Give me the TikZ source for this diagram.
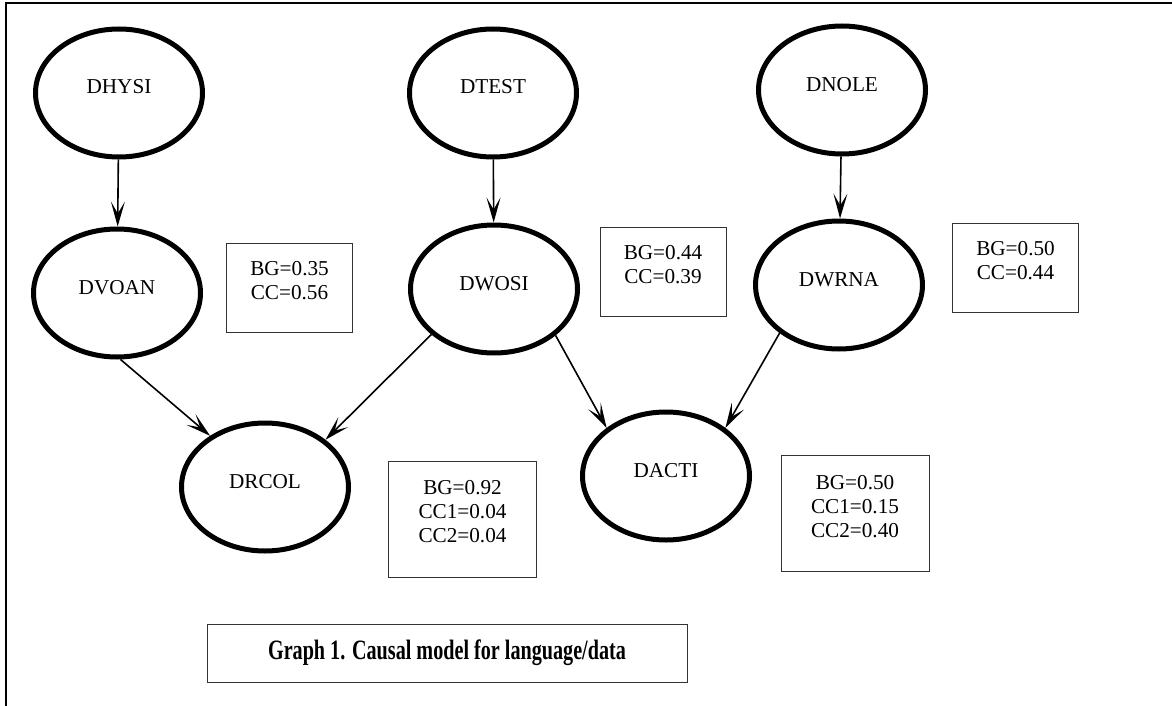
\documentclass[tikz,border=0pt]{standalone}
\usepackage{fontspec}
\setmainfont{Liberation Serif}
\usetikzlibrary{shapes.geometric, arrows.meta}

\begin{document}
\begin{tikzpicture}[>={Stealth[length=12.5pt, width=7pt, inset=6pt]}, x=0.5pt, y=-0.5pt,
    var/.style={ellipse, draw, line width=2.5pt, minimum width=83.5pt, minimum height=64pt,
        inner sep=0pt, font=\fontsize{10.6}{12}\selectfont, text height=7pt, text depth=6pt},
    stat/.style={rectangle, draw=black!80, line width=0.5pt, minimum width=63pt, minimum height=44.5pt},
    bigstat/.style={stat, minimum width=74pt, minimum height=58pt},
    stattext/.style={align=center, yshift=3.5pt, font=\fontsize{10.6}{12}\selectfont},
    edge/.style={->, line width=0.8pt}]
                \useasboundingbox (0,0) rectangle (1172,706);
                % Marco
                \draw[line width=1pt] (1172,3) -- (6,3) -- (6,706);
                % Variables de arriba
                \node[var] (hysi) at (119,93) {DHYSI};
                \node[var] (test) at (493,93) {DTEST};
                \node[var] (nole) at (842,90) {DNOLE};
                % Variables del medio
                \node[var] (voan) at (117,293) {DVOAN};
                \node[var] (wosi) at (494,289) {DWOSI};
                \node[var] (wrna) at (839,285) {DWRNA};
                % Variables de abajo
                \node[var] (rcol) at (265,487) {DRCOL};
                \node[var] (acti) at (666,476) {DACTI};
                % Cuadros
                \node[stat, label={[stattext]center:BG=0.35\\CC=0.56}] (bvoan) at (289.5,288) {};
                \node[stat, label={[stattext]center:BG=0.44\\CC=0.39}] (bwosi) at (663,272) {};
                \node[stat, label={[stattext]center:BG=0.50\\CC=0.44}] (bwrna) at (1015.5,267.5) {};
                \node[bigstat, label={[stattext]center:BG=0.92\\CC1=0.04\\CC2=0.04}] (brcol) at (462.5,519) {};
                \node[bigstat, label={[stattext]center:BG=0.50\\CC1=0.15\\CC2=0.40}] (bacti) at (855,513.5) {};
                % Titulo
                \node[draw=black!80, line width=0.5pt, minimum width=240pt, minimum height=29pt,
                    font=\bfseries\fontsize{14}{16}\selectfont] (titulo) at (447,653)
                    {\scalebox{0.72}[1]{Graph 1. Causal model for language/data}};
                % Flechas
                \draw[edge] (hysi) -- (voan);
                \draw[edge] (test) -- (wosi);
                \draw[edge] (nole) -- (wrna);
                \draw[edge] (voan.-87) -- (rcol.137);
                \draw[edge] (wosi.-144) -- (rcol.38);
                \draw[edge] (wosi.-37) -- (acti.141);
                \draw[edge] (wrna.-141) -- (acti.39);
            \end{tikzpicture}
\end{document}
